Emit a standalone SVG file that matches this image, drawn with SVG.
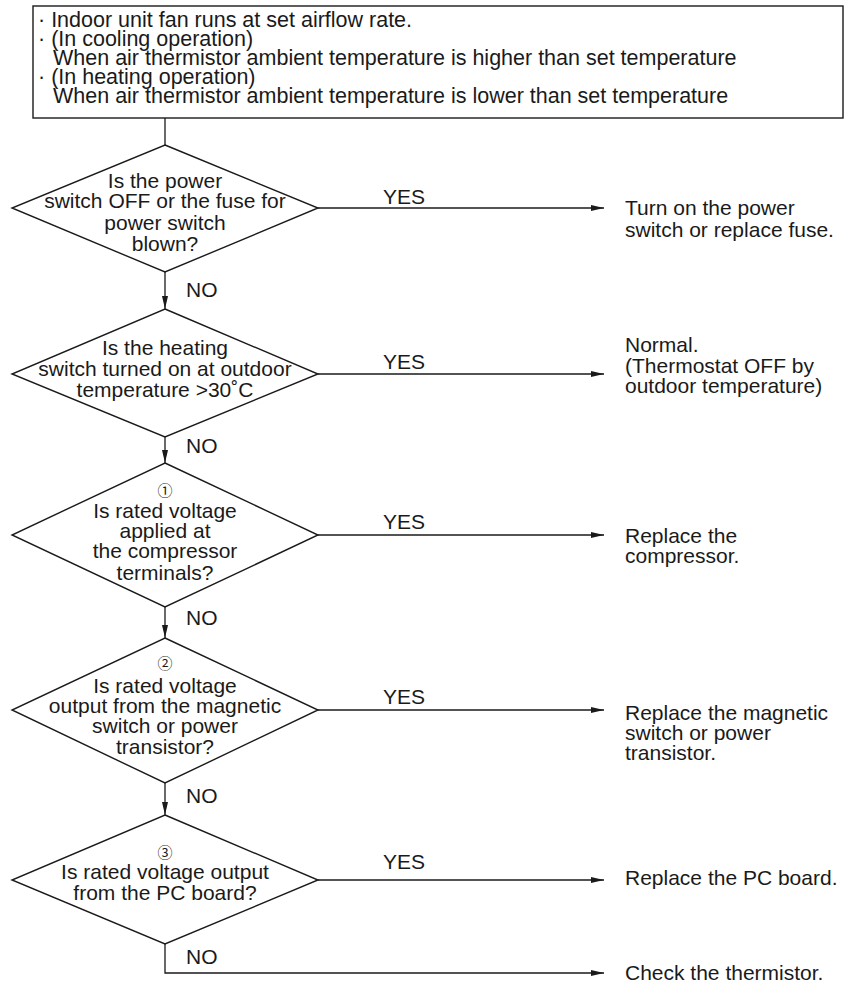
<svg xmlns="http://www.w3.org/2000/svg" width="844" height="985" viewBox="0 0 844 985">
<defs>
<marker id="arr" markerWidth="13" markerHeight="6" refX="13" refY="3" orient="auto" markerUnits="userSpaceOnUse"><path d="M0,0 L13,3 L0,6 Z" fill="#1a1a1a"/></marker>
<style>
text{font-family:"Liberation Sans",Arial,"Noto Sans CJK JP",sans-serif;fill:#1a1a1a;font-size:21px}
.c{text-anchor:middle}
.top{font-size:21.5px}
.n{font-size:15px;font-family:"Noto Sans CJK JP","DejaVu Sans",sans-serif}
.shape{fill:#fff;stroke:#1a1a1a;stroke-width:1.4}
.ln{fill:none;stroke:#1a1a1a;stroke-width:1.3}
.arr{marker-end:url(#arr)}
</style>
</defs>
<rect width="844" height="985" fill="#fff"/>

<g id="start">
<rect class="shape" x="33" y="6" width="810" height="112"/>
<text class="top" x="38" y="27">· Indoor unit fan runs at set airflow rate.</text>
<text class="top" x="38" y="46">· (In cooling operation)</text>
<text class="top" x="53" y="65">When air thermistor ambient temperature is higher than set temperature</text>
<text class="top" x="38" y="84">· (In heating operation)</text>
<text class="top" x="53" y="103">When air thermistor ambient temperature is lower than set temperature</text>
</g>

<g id="connectors">
<path class="ln" d="M165,118 V145"/>
<path class="ln arr" d="M165,272 V309"/>
<path class="ln arr" d="M165,437 V463"/>
<path class="ln arr" d="M165,607 V638"/>
<path class="ln arr" d="M165,783 V815"/>
<path class="ln arr" d="M165,944 V973 H604"/>
<path class="ln arr" d="M318,208 H604"/>
<path class="ln arr" d="M318,374 H604"/>
<path class="ln arr" d="M318,535 H604"/>
<path class="ln arr" d="M318,710 H604"/>
<path class="ln arr" d="M318,880 H604"/>
<text x="383" y="204">YES</text>
<text x="383" y="369">YES</text>
<text x="383" y="529">YES</text>
<text x="383" y="704">YES</text>
<text x="383" y="869">YES</text>
<text x="186" y="297">NO</text>
<text x="186" y="453">NO</text>
<text x="186" y="625">NO</text>
<text x="186" y="803">NO</text>
<text x="186" y="964">NO</text>
</g>

<g id="q1">
<polygon class="shape" points="165,145 318,208 165,272 12,208"/>
<text class="c" x="165" y="188">Is the power</text>
<text class="c" x="165" y="208">switch OFF or the fuse for</text>
<text class="c" x="165" y="230">power switch</text>
<text class="c" x="165" y="251">blown?</text>
</g>

<g id="q2">
<polygon class="shape" points="165,309 318,374 165,437 12,374"/>
<text class="c" x="165" y="355">Is the heating</text>
<text class="c" x="165" y="376">switch turned on at outdoor</text>
<text class="c" x="165" y="397">temperature &gt;30˚C</text>
</g>

<g id="q3">
<polygon class="shape" points="165,463 318,535 165,607 12,535"/>
<text class="c n" x="165" y="496">①</text>
<text class="c" x="165" y="518">Is rated voltage</text>
<text class="c" x="165" y="538">applied at</text>
<text class="c" x="165" y="558">the compressor</text>
<text class="c" x="165" y="580">terminals?</text>
</g>

<g id="q4">
<polygon class="shape" points="165,638 318,710 165,783 12,710"/>
<text class="c n" x="165" y="669">②</text>
<text class="c" x="165" y="693">Is rated voltage</text>
<text class="c" x="165" y="713">output from the magnetic</text>
<text class="c" x="165" y="733">switch or power</text>
<text class="c" x="165" y="754">transistor?</text>
</g>

<g id="q5">
<polygon class="shape" points="165,815 318,880 165,944 12,880"/>
<text class="c n" x="165" y="858">③</text>
<text class="c" x="165" y="879">Is rated voltage output</text>
<text class="c" x="165" y="900">from the PC board?</text>
</g>

<g id="r1">
<text x="625" y="215">Turn on the power</text>
<text x="625" y="237">switch or replace fuse.</text>
</g>
<g id="r2">
<text x="625" y="352">Normal.</text>
<text x="625" y="373">(Thermostat OFF by</text>
<text x="625" y="393">outdoor temperature)</text>
</g>
<g id="r3">
<text x="625" y="543">Replace the</text>
<text x="625" y="563">compressor.</text>
</g>
<g id="r4">
<text x="625" y="720">Replace the magnetic</text>
<text x="625" y="740">switch or power</text>
<text x="625" y="760">transistor.</text>
</g>
<g id="r5">
<text x="625" y="885">Replace the PC board.</text>
</g>
<g id="r6">
<text x="625" y="980">Check the thermistor.</text>
</g>
</svg>
